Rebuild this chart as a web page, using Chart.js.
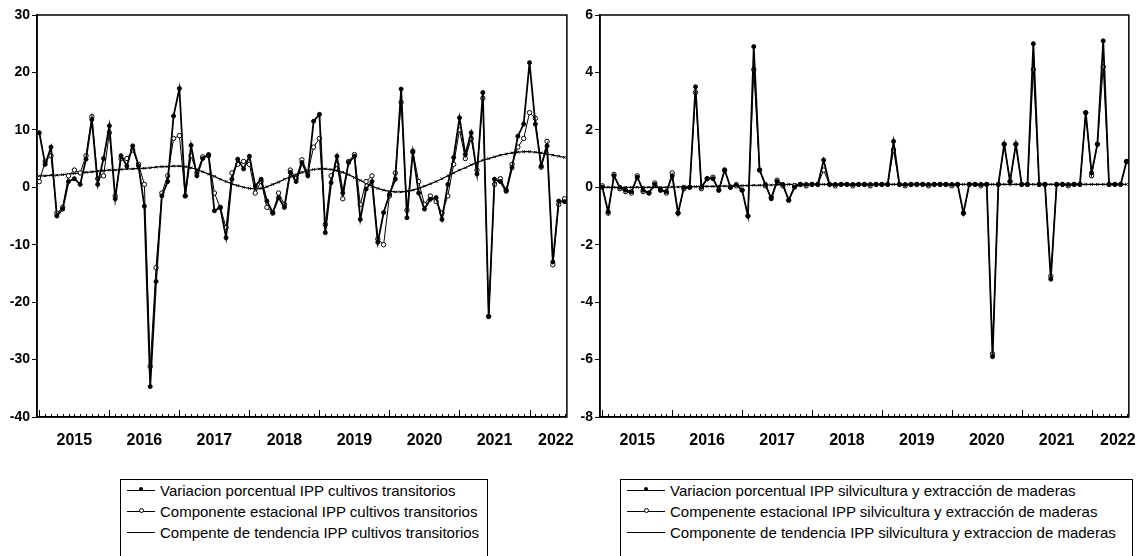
<!DOCTYPE html>
<html>
<head>
<meta charset="utf-8">
<script src="https://cdn.jsdelivr.net/npm/chart.js@4.4.1/dist/chart.umd.min.js"></script>
<style>
  body { margin: 0; background: #fff; width: 1140px; height: 556px; overflow: hidden; position: relative; }
  #leftWrap { position: absolute; left: 0; top: 0; width: 588px; height: 452px; }
  #rightWrap { position: absolute; left: 565px; top: 0; width: 585px; height: 452px; }
  .legend { position: absolute; top: 479px; height: 90px; border: 1.5px solid #000; box-sizing: border-box;
            font-family: 'Liberation Sans', Arial, sans-serif; font-size: 15px; color: #000; }
  .legend div { height: 21px; line-height: 21px; white-space: nowrap; }
  .sym { display: inline-block; position: relative; vertical-align: middle; height: 2px; border-top: 1.5px solid #000; margin-right: 5px; top: -1px; }
  .sym i { position: absolute; left: 50%; top: -4px; width: 4px; height: 4px; margin-left: -2px; border-radius: 50%; background: #000; }
  .sym i.open { background: #fff; border: 1px solid #000; width: 3px; height: 3px; }
  .sym i.x { background: none; }
  #legL { left: 120px; width: 368px; padding-left: 6px; }
  #legR { left: 620px; width: 513px; padding-left: 6px; }
  #legL .sym { width: 28px; }
  #legR .sym { width: 38px; }
</style>
</head>
<body>
<div id="leftWrap"><canvas id="leftChart"></canvas></div>
<div id="rightWrap"><canvas id="rightChart"></canvas></div>

<div class="legend" id="legL">
  <div><span class="sym"><i></i></span>Variacion porcentual IPP cultivos transitorios</div>
  <div><span class="sym"><i class="open"></i></span>Componente estacional IPP cultivos transitorios</div>
  <div><span class="sym"><i class="x"></i></span>Compente de tendencia IPP cultivos transitorios</div>
</div>
<div class="legend" id="legR">
  <div><span class="sym"><i></i></span>Variacion porcentual IPP silvicultura y extracción de maderas</div>
  <div><span class="sym"><i class="open"></i></span>Compenente estacional IPP silvicultura y extracción de maderas</div>
  <div><span class="sym"><i class="x"></i></span>Componente de tendencia IPP silvicultura y extraccion de maderas</div>
</div>

<script>
// monthly series, Jan 2015 .. Jul 2022 (91 months)
var years = ['2015', '2016', '2017', '2018', '2019', '2020', '2021', '2022'];

// left panel: cultivos transitorios
var cultVar = [
  9.5, 4, 7, -5, -3.8, 1, 1.5, 0.5, 4.9, 11.8, 0.5, 5,
  10.7, -2, 5.5, 3.7, 7.2, 3.7, -3.3, -34.7, -16.4, -1.5, 1, 12.4,
  17.2, -1.5, 7.3, 2, 5, 5.7, -4.1, -3.5, -8.8, 1.4, 4.9, 3.2,
  5.4, 0.2, 1.4, -2.4, -4.4, -1.8, -3.5, 2.6, 1, 4.3, 2, 11.5,
  12.7, -7.9, 0.8, 5.4, -1, 4.3, 5.4, -5.6, -0.3, 1, -9.6, -4.4,
  -1.2, 1.4, 17.1, -5.3, 6.1, -1, -3.8, -2.1, -1.8, -5.6, 0.5, 5.2,
  12.1, 5.7, 9.5, 2.3, 16.5, -22.5, 1.4, 1, -0.7, 3.4, 8.9, 11,
  21.7, 11, 3.7, 7.2, -13, -2.4, -2.5
];
var cultEst = [
  1, 4.5, 5.5, -4.5, -3.5, 2, 3, 2.5, 5.5, 12.3, 1.5, 2,
  9.5, -1.5, 5, 5, 6.5, 4, 0.5, -31.2, -14, -1, 2, 8.5,
  9, -1.5, 5.5, 2.5, 5.3, 5.5, -1, -3.5, -7, 2.5, 4, 4.5,
  4, -1, 1, -3.5, -4.5, -1, -3, 3, 1.5, 4.8, 2.5, 7,
  8.5, -6.5, 2, 4, -2, 4.5, 5.7, -3, 1, 2, -9, -10,
  -1.5, 2.5, 14.8, -4, 6.3, 1, -3, -1.5, -2.5, -4.5, -1.5, 4,
  10, 5, 8.5, 3, 15.5, -22.5, 0.5, 1.5, -0.5, 4, 7, 8.5,
  13, 12, 3.5, 8, -13.5, -3, -2
];
var cultTend = [
  2.0, 2.0, 2.1, 2.1, 2.2, 2.3, 2.4, 2.5, 2.6, 2.7, 2.8, 2.9,
  3.0, 3.0, 3.1, 3.2, 3.2, 3.3, 3.3, 3.4, 3.5, 3.6, 3.6, 3.7,
  3.7, 3.6, 3.4, 3.1, 2.7, 2.3, 1.9, 1.4, 1.0, 0.6, 0.3, 0.0,
  -0.2, -0.3, -0.2, 0.1, 0.5, 0.9, 1.4, 1.8, 2.2, 2.6, 2.9, 3.1,
  3.2, 3.2, 3.1, 2.9, 2.6, 2.2, 1.7, 1.2, 0.7, 0.2, -0.2, -0.5,
  -0.7, -0.8, -0.8, -0.7, -0.5, -0.2, 0.2, 0.6, 1.0, 1.5, 2.0, 2.5,
  3.0, 3.4, 3.9, 4.3, 4.7, 5.0, 5.3, 5.6, 5.8, 6.0, 6.1, 6.2,
  6.2, 6.1, 6.0, 5.8, 5.6, 5.4, 5.2
];

// right panel: silvicultura y extraccion de maderas
var silvVar = [
  0, -0.85, 0.4, 0, -0.1, -0.15, 0.35, -0.1, -0.2, 0.1, -0.1, -0.15,
  0.4, -0.9, 0, 0, 3.5, 0, 0.3, 0.3, -0.1, 0.6, 0, 0.1,
  -0.1, -1.0, 4.9, 0.6, 0.1, -0.4, 0.2, 0.1, -0.45, 0, 0.1, 0.1,
  0.1, 0.1, 0.95, 0.1, 0.1, 0.1, 0.1, 0.1, 0.1, 0.1, 0.1, 0.1,
  0.1, 0.1, 1.6, 0.1, 0.1, 0.1, 0.1, 0.1, 0.1, 0.1, 0.1, 0.1,
  0.1, 0.1, -0.9, 0.1, 0.1, 0.1, 0.1, -5.9, 0.1, 1.5, 0.2, 1.5,
  0.1, 0.1, 5.0, 0.1, 0.1, -3.2, 0.1, 0.1, 0.1, 0.1, 0.1, 2.6,
  0.5, 1.5, 5.1, 0.1, 0.1, 0.1, 0.9
];
var silvEst = [
  0.05, -0.9, 0.45, -0.05, -0.15, -0.2, 0.4, -0.15, -0.2, 0.15, -0.1, -0.2,
  0.5, -0.9, -0.05, 0, 3.3, -0.05, 0.3, 0.35, -0.1, 0.6, 0, 0.05,
  -0.1, -1.0, 4.1, 0.6, 0.05, -0.35, 0.25, 0.05, -0.45, 0.05, 0.1, 0.05,
  0.1, 0.1, 0.6, 0.1, 0.05, 0.1, 0.1, 0.05, 0.1, 0.1, 0.05, 0.1,
  0.1, 0.1, 1.3, 0.1, 0.05, 0.1, 0.1, 0.1, 0.05, 0.1, 0.1, 0.1,
  0.05, 0.1, -0.9, 0.1, 0.1, 0.05, 0.1, -5.8, 0.1, 1.5, 0.2, 1.5,
  0.1, 0.1, 4.1, 0.1, 0.1, -3.1, 0.1, 0.1, 0.05, 0.1, 0.1, 2.6,
  0.4, 1.5, 4.2, 0.1, 0.1, 0.1, 0.9
];
var silvTend = [
  0, 0, 0, 0, 0, 0, 0, 0, 0, 0, 0, 0,
  0.01, 0.01, 0.02, 0.02, 0.02, 0.03, 0.03, 0.03, 0.04, 0.04, 0.05, 0.05,
  0.06, 0.06, 0.07, 0.07, 0.08, 0.08, 0.09, 0.09, 0.1, 0.1, 0.1, 0.1,
  0.1, 0.1, 0.1, 0.1, 0.1, 0.1, 0.1, 0.1, 0.1, 0.1, 0.1, 0.1,
  0.1, 0.1, 0.1, 0.1, 0.1, 0.1, 0.1, 0.1, 0.1, 0.1, 0.1, 0.1,
  0.1, 0.1, 0.1, 0.1, 0.1, 0.1, 0.1, 0.1, 0.1, 0.1, 0.1, 0.1,
  0.1, 0.1, 0.1, 0.1, 0.1, 0.1, 0.1, 0.1, 0.1, 0.1, 0.1, 0.1,
  0.1, 0.1, 0.1, 0.1, 0.1, 0.1, 0.1
];

var axisFont = "'Liberation Sans', Arial, sans-serif";
var lastIdx = cultVar.length - 1;

function toPoints(vals) {
  return vals.map(function(v, i) { return { x: i, y: v }; });
}

// frame on top/right + monthly tick marks along the bottom
var framePlugin = {
  id: 'frame',
  afterDraw: function(chart) {
    var ctx = chart.ctx, a = chart.chartArea, xs = chart.scales.x;
    ctx.save();
    ctx.strokeStyle = '#000';
    ctx.lineWidth = 1.5;
    ctx.strokeRect(a.left, a.top, a.right - a.left, a.bottom - a.top);
    ctx.lineWidth = 1;
    for (var m = 0; m <= lastIdx; m++) {
      var px = Math.round(xs.getPixelForValue(m)) + 0.5;
      var len = (m % 12 === 0) ? 7 : 3;
      ctx.beginPath();
      ctx.moveTo(px, a.bottom);
      ctx.lineTo(px, a.bottom - len);
      ctx.stroke();
    }
    ctx.restore();
  }
};

function makeDatasets(v, e, t) {
  return [
    { data: toPoints(v), borderColor: '#000', borderWidth: 1.8, pointRadius: 2, pointBackgroundColor: '#000',
      pointBorderColor: '#000', pointBorderWidth: 1, tension: 0 },
    { data: toPoints(e), borderColor: '#000', borderWidth: 1, pointRadius: 2.2, pointBackgroundColor: '#fff',
      pointBorderColor: '#000', pointBorderWidth: 1, tension: 0 },
    { data: toPoints(t), borderColor: '#000', borderWidth: 1.2, pointRadius: 1.8, pointStyle: 'crossRot',
      pointBorderColor: '#000', pointBorderWidth: 1, tension: 0 }
  ];
}

function makeChart(id, datasets, yMin, yMax, yStep, yWidth, padRight) {
  return new Chart(document.getElementById(id), {
    type: 'line',
    data: { datasets: datasets },
    plugins: [framePlugin],
    options: {
      responsive: true,
      maintainAspectRatio: false,
      animation: false,
      layout: { padding: { top: 15, right: padRight, left: 0, bottom: 0 } },
      plugins: { legend: { display: false }, tooltip: { enabled: false } },
      scales: {
        x: {
          type: 'linear',
          min: -0.4,
          max: lastIdx + 0.4,
          afterBuildTicks: function(scale) {
            scale.ticks = years.map(function(y, k) {
              return { value: Math.min(12 * k + 6, lastIdx - 1.5) };
            });
          },
          afterFit: function(scale) { scale.height = 35; },
          grid: { display: false, drawTicks: false },
          border: { display: true, color: '#000', width: 1.5 },
          ticks: {
            padding: 14,
            color: '#000',
            maxRotation: 0,
            autoSkip: false,
            font: { family: axisFont, size: 16, weight: 'bold' },
            callback: function(val, idx) { return years[idx]; }
          }
        },
        y: {
          min: yMin,
          max: yMax,
          afterFit: function(scale) { scale.width = yWidth; },
          grid: { drawOnChartArea: false, drawTicks: true, tickLength: 5, color: '#000' },
          border: { display: true, color: '#000', width: 1.5 },
          ticks: {
            stepSize: yStep,
            padding: 2,
            color: '#000',
            font: { family: axisFont, size: 14, weight: 'bold' }
          }
        }
      }
    }
  });
}

makeChart('leftChart', makeDatasets(cultVar, cultEst, cultTend), -40, 30, 10, 37, 20);
makeChart('rightChart', makeDatasets(silvVar, silvEst, silvTend), -8, 6, 2, 35, 20);
</script>
</body>
</html>
